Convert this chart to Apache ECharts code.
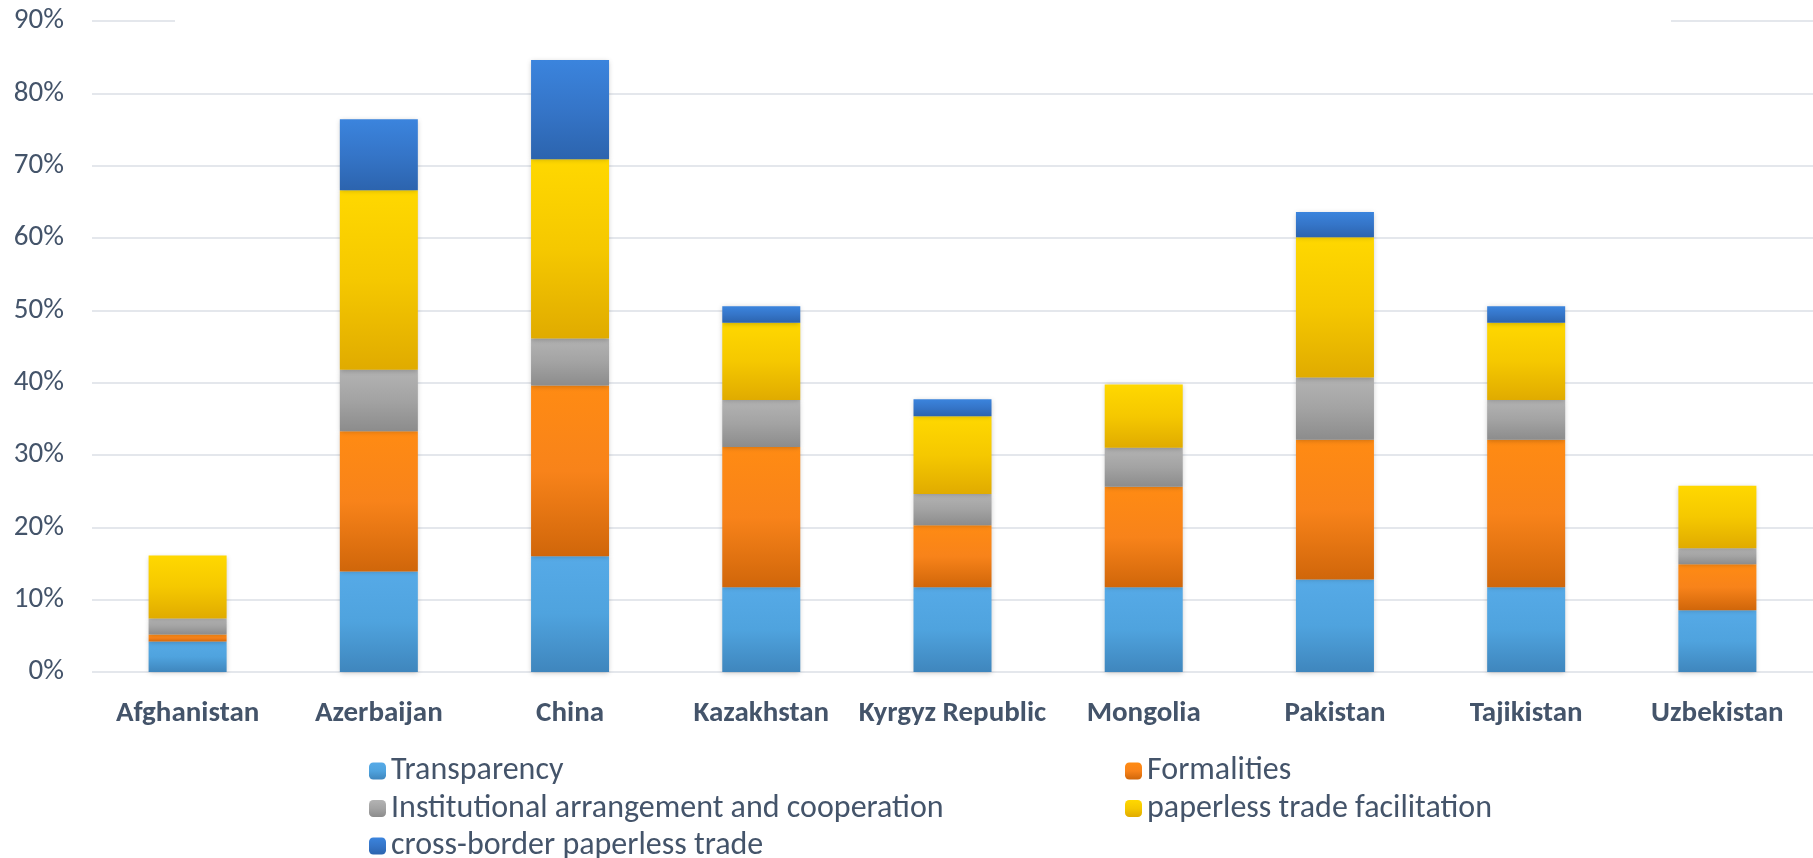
<!DOCTYPE html>
<html>
<head>
<meta charset="utf-8">
<title>Trade facilitation scores</title>
<script src="https://cdn.jsdelivr.net/npm/echarts@6/dist/echarts.min.js"></script>
<style>
  html, body { margin: 0; padding: 0; background: #fff; }
  #chart { width: 1813px; height: 858px; }
</style>
</head>
<body>
<div id="chart"></div>
<script>
// countries on the x axis
const countries = ['Afghanistan', 'Azerbaijan', 'China', 'Kazakhstan', 'Kyrgyz Republic',
  'Mongolia', 'Pakistan', 'Tajikistan', 'Uzbekistan'];

// stacked components, in percent
const transparency = [4.2, 13.9, 16.0, 11.7, 11.7, 11.7, 12.8, 11.7, 8.55];
const formalities = [1.0, 19.4, 23.6, 19.4, 8.6, 13.9, 19.3, 20.4, 6.35];
const institutional = [2.2, 8.5, 6.5, 6.5, 4.3, 5.4, 8.6, 5.5, 2.2];
const paperless = [8.7, 24.8, 24.8, 10.7, 10.75, 8.75, 19.4, 10.7, 8.65];
const crossBorder = [0, 9.8, 13.7, 2.25, 2.35, 0, 3.5, 2.25, 0];

// y axis ticks
const yTicks = [0, 10, 20, 30, 40, 50, 60, 70, 80, 90];

const seriesNames = ['Transparency', 'Formalities', 'Institutional arrangement and cooperation',
  'paperless trade facilitation', 'cross-border paperless trade'];

const textColor = '#44546A';
const fontFamily = 'Carlito, Lato, sans-serif';

// vertical gradient, light at top of each segment
const grad = (stops) => new echarts.graphic.LinearGradient(0, 0, 0, 1,
  stops.map((c, i) => ({offset: i / (stops.length - 1), color: c})));

const colors = [
  grad(['#56AAE7', '#4FA3DE', '#3F86BD']),
  grad(['#FF8B13', '#F8831A', '#D0660A']),
  grad(['#B3B3B3', '#A3A3A3', '#8C8C8C']),
  grad(['#FFD800', '#F5C800', '#E0AB00']),
  grad(['#3B84DD', '#3575C8', '#2C64AE'])
];

const values = [transparency, formalities, institutional, paperless, crossBorder];

const series = seriesNames.map((name, i) => ({
  name: name,
  type: 'bar',
  stack: 'total',
  barWidth: 78,
  data: values[i],
  itemStyle: {
    color: colors[i],
    shadowBlur: 5,
    shadowColor: 'rgba(0, 0, 0, 0.22)',
    shadowOffsetY: 1
  },
  emphasis: {disabled: true}
}));

const legendText = {
  color: textColor,
  fontFamily: fontFamily,
  fontSize: 32,
  lineHeight: 32
};

// two legend columns, the last row runs off the bottom edge like the original
const legendColumn = (left, names) => ({
  orient: 'vertical',
  left: left,
  top: 755,
  height: 140,
  padding: 0,
  itemWidth: 17,
  itemHeight: 17,
  itemGap: 5.5,
  data: names,
  textStyle: legendText
});

const option = {
  animation: false,
  grid: {
    left: 92,
    top: 21,
    width: 1733,
    height: 651
  },
  xAxis: {
    type: 'category',
    data: countries,
    axisLine: {show: false},
    axisTick: {show: false},
    axisLabel: {
      color: textColor,
      fontFamily: fontFamily,
      fontWeight: 'bold',
      fontSize: 29,
      margin: 27,
      interval: 0
    }
  },
  yAxis: {
    type: 'value',
    min: yTicks[0],
    max: yTicks[yTicks.length - 1],
    interval: 10,
    axisLine: {show: false},
    axisTick: {show: false},
    axisLabel: {
      color: textColor,
      fontFamily: fontFamily,
      fontSize: 29,
      margin: 28,
      formatter: '{value}%'
    },
    splitLine: {
      lineStyle: {color: '#E4E7EC', width: 2}
    }
  },
  legend: [
    legendColumn(369, [seriesNames[0], seriesNames[2], seriesNames[4]]),
    legendColumn(1125, [seriesNames[1], seriesNames[3]])
  ],
  // the top gridline is hidden in the middle in the original
  graphic: [{
    type: 'rect',
    left: 175,
    top: 14,
    shape: {width: 1496, height: 14},
    style: {fill: '#fff'},
    z: 10
  }],
  series: series
};

const chart = echarts.init(document.getElementById('chart'));
chart.setOption(option);
</script>
</body>
</html>
